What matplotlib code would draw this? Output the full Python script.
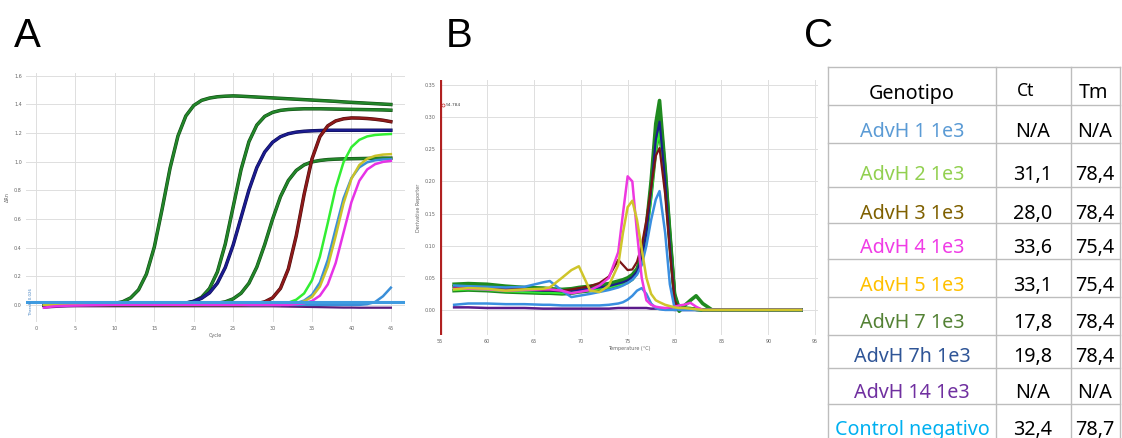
import matplotlib
matplotlib.use("Agg")
import matplotlib.pyplot as plt
from matplotlib import patheffects as pe

# ---------------- Panel A: amplification curves (ΔRn per cycle) ----------------
cycles = list(range(1, 46))

amp_green_1 = [0.0, 0.0, 0.0, 0.0, 0.0, 0.0, 0.001, 0.002,
               0.004, 0.010, 0.022, 0.049, 0.105, 0.215, 0.404, 0.672, 0.956, 1.180,
               1.320, 1.393, 1.429, 1.445, 1.454, 1.458, 1.460, 1.458, 1.455, 1.452,
               1.449, 1.446, 1.443, 1.440, 1.437, 1.434, 1.431, 1.428, 1.425, 1.422,
               1.418, 1.415, 1.412, 1.409, 1.406, 1.403, 1.400]
amp_green_2 = [0.0] * 17 + [0.005, 0.011, 0.025, 0.053, 0.114, 0.230, 0.425, 0.685,
                            0.945, 1.140, 1.256, 1.317, 1.345, 1.359, 1.365, 1.368,
                            1.370, 1.370, 1.370, 1.369, 1.368, 1.367, 1.366, 1.365,
                            1.364, 1.363, 1.362, 1.360]
amp_navy = [0.0] * 16 + [0.003, 0.006, 0.013, 0.024, 0.046, 0.084, 0.152, 0.261,
                         0.418, 0.610, 0.802, 0.959, 1.068, 1.136, 1.175, 1.196,
                         1.207, 1.213, 1.216, 1.218, 1.220, 1.220, 1.220, 1.220,
                         1.220, 1.220, 1.220, 1.220, 1.220]
amp_green_3 = [0.0] * 21 + [0.005, 0.011, 0.021, 0.042, 0.081, 0.151, 0.264, 0.421,
                            0.599, 0.756, 0.869, 0.939, 0.978, 0.999, 1.009, 1.015,
                            1.018, 1.020, 1.021, 1.022, 1.023, 1.024, 1.025, 1.025]
amp_darkred = [0.0] * 26 + [0.003, 0.008, 0.021, 0.049, 0.115, 0.251, 0.482, 0.772,
                            1.020, 1.175, 1.251, 1.285, 1.300, 1.306, 1.305, 1.302,
                            1.297, 1.290, 1.280]
amp_brightgreen = [0.0] * 30 + [0.007, 0.015, 0.036, 0.080, 0.172, 0.337, 0.572, 0.816,
                                0.997, 1.102, 1.153, 1.177, 1.187, 1.191, 1.194]
amp_steelblue = [0.0] * 31 + [0.005, 0.012, 0.030, 0.070, 0.156, 0.314, 0.532, 0.744,
                              0.886, 0.961, 0.996, 1.010, 1.016, 1.018]
amp_yellow = [0.0] * 31 + [0.004, 0.010, 0.024, 0.056, 0.128, 0.268, 0.480, 0.710,
                           0.881, 0.977, 1.021, 1.041, 1.050, 1.053]
amp_magenta = [-0.020, -0.012, -0.008, -0.006, -0.005, -0.004, -0.003, -0.002, -0.001] \
    + [0.0] * 23 + [0.005, 0.011, 0.027, 0.064, 0.143, 0.292, 0.505, 0.718, 0.867,
                    0.946, 0.983, 0.999, 1.006]
amp_lateblue = [0.0] * 41 + [0.005, 0.020, 0.060, 0.120]
amp_purple = [-0.020, -0.016, -0.013, -0.011] + [-0.010] * 26 + \
    [-0.011, -0.012, -0.013, -0.014, -0.015, -0.016, -0.017, -0.018,
     -0.019, -0.019, -0.020, -0.020, -0.020, -0.020, -0.020]
threshold = 0.02

# ---------------- Panel B: melt curves (derivative reporter vs temperature) ----------------
temps = [56.5, 58, 60, 62, 64, 66, 66.7, 68, 69, 69.8, 71, 72, 73, 74, 74.5, 75, 75.5,
         76, 76.5, 77, 77.5, 78, 78.4, 79, 79.5, 80, 80.5, 81, 81.7, 82.3, 83, 84,
         86, 88, 90, 92, 93.5]
melt_green_a = [0.040, 0.041, 0.040, 0.037, 0.035, 0.034, 0.033, 0.032, 0.033, 0.035,
                0.037, 0.039, 0.041, 0.045, 0.047, 0.050, 0.055, 0.064, 0.085, 0.130,
                0.200, 0.290, 0.326, 0.220, 0.120, 0.025, 0.002, 0.003, 0.002, 0.001,
                0.0, 0.0, 0.0, 0.0, 0.0, 0.0, 0.0]
melt_green_b = [0.030, 0.031, 0.030, 0.028, 0.027, 0.026, 0.026, 0.025, 0.026, 0.028,
                0.030, 0.032, 0.034, 0.038, 0.040, 0.043, 0.048, 0.058, 0.080, 0.120,
                0.180, 0.250, 0.280, 0.200, 0.110, 0.020, -0.002, 0.006, 0.015, 0.022,
                0.010, 0.0, 0.0, 0.0, 0.0, 0.0, 0.0]
melt_green_c = [0.036, 0.037, 0.036, 0.034, 0.032, 0.031, 0.030, 0.029, 0.030, 0.032,
                0.034, 0.036, 0.038, 0.042, 0.044, 0.047, 0.052, 0.061, 0.082, 0.125,
                0.190, 0.275, 0.310, 0.215, 0.115, 0.022, 0.001, 0.002, 0.002, 0.001,
                0.0, 0.0, 0.0, 0.0, 0.0, 0.0, 0.0]
melt_navy = [0.035, 0.036, 0.035, 0.033, 0.031, 0.030, 0.030, 0.029, 0.030, 0.031,
             0.033, 0.035, 0.037, 0.041, 0.043, 0.046, 0.051, 0.060, 0.080, 0.120,
             0.185, 0.265, 0.293, 0.200, 0.100, 0.015, 0.0, 0.001, 0.001, 0.0,
             0.0, 0.0, 0.0, 0.0, 0.0, 0.0, 0.0]
melt_brightgreen = [0.031, 0.032, 0.031, 0.029, 0.028, 0.027, 0.027, 0.026, 0.027, 0.029,
                    0.031, 0.033, 0.035, 0.039, 0.041, 0.044, 0.049, 0.058, 0.078, 0.115,
                    0.175, 0.250, 0.278, 0.190, 0.095, 0.012, 0.0, 0.001, 0.001, 0.0,
                    0.0, 0.0, 0.0, 0.0, 0.0, 0.0, 0.0]
melt_darkred = [0.035, 0.035, 0.034, 0.033, 0.032, 0.031, 0.031, 0.030, 0.032, 0.034,
                0.037, 0.042, 0.052, 0.078, 0.070, 0.062, 0.063, 0.075, 0.100, 0.140,
                0.190, 0.240, 0.252, 0.180, 0.090, 0.015, 0.0, 0.001, 0.001, 0.0,
                0.0, 0.0, 0.0, 0.0, 0.0, 0.0, 0.0]
melt_steelblue = [0.038, 0.037, 0.036, 0.035, 0.036, 0.043, 0.045, 0.030, 0.020, 0.022,
                  0.025, 0.028, 0.031, 0.035, 0.038, 0.042, 0.047, 0.055, 0.070, 0.100,
                  0.140, 0.172, 0.185, 0.120, 0.040, 0.003, 0.0, 0.0, 0.0, 0.0,
                  0.0, 0.0, 0.0, 0.0, 0.0, 0.0, 0.0]
melt_magenta = [0.033, 0.033, 0.032, 0.030, 0.031, 0.032, 0.032, 0.030, 0.026, 0.028,
                0.031, 0.038, 0.050, 0.090, 0.150, 0.208, 0.200, 0.120, 0.050, 0.015,
                0.008, 0.005, 0.004, 0.003, 0.004, 0.005, 0.007, 0.008, 0.011, 0.005,
                0.0, 0.0, 0.0, 0.0, 0.0, 0.0, 0.0]
melt_yellow = [0.032, 0.034, 0.033, 0.030, 0.032, 0.033, 0.035, 0.050, 0.062, 0.068,
               0.030, 0.028, 0.038, 0.070, 0.120, 0.160, 0.170, 0.140, 0.095, 0.050,
               0.025, 0.015, 0.012, 0.008, 0.006, 0.004, 0.003, 0.003, 0.002, 0.001,
               0.0, 0.0, 0.0, 0.0, 0.0, 0.0, 0.0]
melt_lowblue = [0.008, 0.010, 0.010, 0.009, 0.009, 0.008, 0.008, 0.007, 0.007, 0.007,
                0.007, 0.007, 0.008, 0.010, 0.012, 0.016, 0.022, 0.030, 0.034, 0.025,
                0.010, 0.003, 0.001, 0.0, 0.0, 0.0, 0.0, 0.0, 0.0, 0.0,
                0.0, 0.0, 0.0, 0.0, 0.0, 0.0, 0.0]
melt_purple = [0.004, 0.004, 0.003, 0.003, 0.003, 0.002, 0.002, 0.002, 0.002, 0.002,
               0.002, 0.002, 0.002, 0.003, 0.003, 0.003, 0.003, 0.003, 0.003, 0.003,
               0.002, 0.002, 0.002, 0.001, 0.001, 0.0, 0.0, 0.0, 0.0, 0.0,
               0.0, 0.0, 0.0, 0.0, 0.0, 0.0, 0.0]
marker_temp = 54.784

# ---------------- Panel C: table ----------------
table_header = ["Genotipo", "Ct", "Tm"]
genotypes = ["AdvH 1 1e3", "AdvH 2 1e3", "AdvH 3 1e3", "AdvH 4 1e3", "AdvH 5 1e3",
             "AdvH 7 1e3", "AdvH 7h 1e3", "AdvH 14 1e3", "Control negativo"]
ct_values = ["N/A", "31,1", "28,0", "33,6", "33,1", "17,8", "19,8", "N/A", "32,4"]
tm_values = ["N/A", "78,4", "78,4", "75,4", "75,4", "78,4", "78,4", "N/A", "78,7"]
genotype_colors = ["#5b9bd5", "#92d050", "#7f6000", "#f03ce6", "#ffc000",
                   "#548235", "#2f5597", "#7030a0", "#00b0f0"]

# ---------------- Figure ----------------
fig = plt.figure(figsize=(11.22, 4.38), dpi=100)
fig.patch.set_facecolor("white")

def stroke(c, w):
    return [pe.Stroke(linewidth=w, foreground=c), pe.Normal()]

GRID = "#dedede"
TICKC = "#666666"

# Panel A
axA = fig.add_axes([0.0232, 0.2648, 0.3378, 0.5685])
axA.plot(cycles, amp_purple, color="#5a1a7a", lw=1.6, zorder=2)
axA.plot(cycles, amp_lateblue, color="#3a8fd9", lw=1.8, zorder=2)
axA.plot(cycles, amp_green_3, color="#23862a", lw=1.7, zorder=3,
         path_effects=stroke("#0f4a12", 2.5))
axA.plot(cycles, amp_green_2, color="#23862a", lw=1.7, zorder=3,
         path_effects=stroke("#0f4a12", 2.5))
axA.plot(cycles, amp_green_1, color="#23862a", lw=1.7, zorder=3,
         path_effects=stroke("#0f4a12", 2.5))
axA.plot(cycles, amp_navy, color="#1c1c90", lw=1.7, zorder=3,
         path_effects=stroke("#0c0c50", 2.5))
axA.plot(cycles, amp_darkred, color="#8e1a1a", lw=1.7, zorder=3,
         path_effects=stroke("#4a0c0c", 2.5))
axA.plot(cycles, amp_brightgreen, color="#33ee33", lw=1.8, zorder=3)
axA.plot(cycles, amp_steelblue, color="#3a8fd9", lw=1.8, zorder=3)
axA.plot(cycles, amp_yellow, color="#c9c22a", lw=1.8, zorder=3)
axA.plot(cycles, amp_magenta, color="#e632e6", lw=1.8, zorder=3)
axA.axhline(threshold, color="#3f9be0", lw=2.2, zorder=4)
axA.text(-0.6, threshold, "Thresh. 0.026", rotation=90, fontsize=2.8,
         color="#3f7fc0", ha="center", va="center", zorder=5)
axA.set_xlim(-1.27, 46.8)
axA.set_ylim(-0.12, 1.62)
axA.set_xticks(list(range(0, 46, 5)))
axA.set_yticks([0.0, 0.2, 0.4, 0.6, 0.8, 1.0, 1.2, 1.4, 1.6])
axA.set_yticklabels(["0.0", "0.2", "0.4", "0.6", "0.8", "1.0", "1.2", "1.4", "1.6"])
axA.tick_params(labelsize=3.5, colors=TICKC, length=0, pad=3)
axA.grid(True, color=GRID, lw=0.7)
axA.set_axisbelow(True)
for s in axA.spines.values():
    s.set_visible(False)
axA.set_xlabel("Cycle", fontsize=3.5, color=TICKC, labelpad=1)
axA.set_ylabel("ΔRn", fontsize=3.5, color=TICKC, labelpad=3)

# Panel B
axB = fig.add_axes([0.3922, 0.2352, 0.3369, 0.5822])
axB.plot(temps, melt_purple, color="#5a1a8a", lw=1.8, zorder=2)
axB.plot(temps, melt_lowblue, color="#3a8fe0", lw=1.8, zorder=2)
axB.plot(temps, melt_green_b, color="#1f8a1f", lw=2.6, zorder=3)
axB.plot(temps, melt_green_c, color="#1f8a1f", lw=2.6, zorder=3)
axB.plot(temps, melt_green_a, color="#1f8a1f", lw=2.6, zorder=3)
axB.plot(temps, melt_brightgreen, color="#33ee33", lw=1.6, zorder=3)
axB.plot(temps, melt_navy, color="#1c1c8c", lw=1.6, zorder=3)
axB.plot(temps, melt_darkred, color="#7a1515", lw=1.6, zorder=3)
axB.plot(temps, melt_steelblue, color="#3a8fe0", lw=1.8, zorder=4)
axB.plot(temps, melt_magenta, color="#ee38e0", lw=1.8, zorder=4)
axB.plot(temps, melt_yellow, color="#cfc52a", lw=1.8, zorder=5)
axB.axvline(55.05, color="#b02020", lw=1.6, zorder=6)
axB.plot([55.3], [0.319], marker="o", ms=2.2, mfc="white", mec="#c03030", mew=0.5,
         zorder=7, clip_on=False)
axB.text(55.6, 0.319, "%.3f" % marker_temp, fontsize=3.2, color="#444444",
         va="center", ha="left", zorder=7)
axB.set_xlim(55, 95.3)
axB.set_ylim(-0.039, 0.358)
axB.set_xticks(list(range(55, 96, 5)))
axB.set_yticks([0.0, 0.05, 0.10, 0.15, 0.20, 0.25, 0.30, 0.35])
axB.set_yticklabels(["0.00", "0.05", "0.10", "0.15", "0.20", "0.25", "0.30", "0.35"])
axB.tick_params(labelsize=3.5, colors=TICKC, length=0, pad=3)
axB.grid(True, color=GRID, lw=0.7)
axB.set_axisbelow(True)
for s in axB.spines.values():
    s.set_visible(False)
axB.set_xlabel("Temperature (°C)", fontsize=3.5, color=TICKC, labelpad=1)
axB.set_ylabel("Derivative Reporter", fontsize=3.5, color=TICKC, labelpad=3)

# Panel C (table) + panel letters, drawn in pixel coordinates
axC = fig.add_axes([0, 0, 1, 1], zorder=-1)
axC.set_xlim(0, 1122)
axC.set_ylim(438, 0)
axC.axis("off")

col_x = [828.3, 996.0, 1070.7, 1120.0]
row_y = [66.7, 105.0, 142.7, 186.7, 223.0, 259.3, 296.7, 335.0, 368.3, 404.3]
LINEC = "#bdbdbd"
for yy in row_y:
    axC.plot([col_x[0], col_x[-1]], [yy, yy], color=LINEC, lw=1.0)
for xx in col_x:
    axC.plot([xx, xx], [row_y[0], 440], color=LINEC, lw=1.0)

TF = "Noto Sans"
FS = 14.2
FW = "medium"
axC.text(912, 99.3, table_header[0], fontsize=FS, family=TF, weight=FW, ha="center",
         va="baseline", color="black")
axC.text(1026, 96.0, table_header[1], fontsize=FS - 1.5, family=TF, weight=FW,
         ha="center", va="baseline", color="black")
axC.text(1094, 98.3, table_header[2], fontsize=FS, family=TF, weight=FW, ha="center",
         va="baseline", color="black")
baselines = [136.7, 180.0, 218.7, 253.3, 291.0, 328.3, 361.7, 398.3, 435.0]
for g, ct, tm, c, yb in zip(genotypes, ct_values, tm_values, genotype_colors, baselines):
    axC.text(912, yb, g, fontsize=FS, family=TF, weight=FW, ha="center",
             va="baseline", color=c)
    axC.text(1033, yb, ct, fontsize=FS, family=TF, weight=FW, ha="center",
             va="baseline", color="black")
    axC.text(1095, yb, tm, fontsize=FS, family=TF, weight=FW, ha="center",
             va="baseline", color="black")

for letter, xl in [("A", 14), ("B", 446), ("C", 804)]:
    axC.text(xl, 47, letter, fontsize=29, family="Liberation Sans", ha="left",
             va="baseline", color="black")

fig.savefig("out.png", dpi=100, facecolor="white")
